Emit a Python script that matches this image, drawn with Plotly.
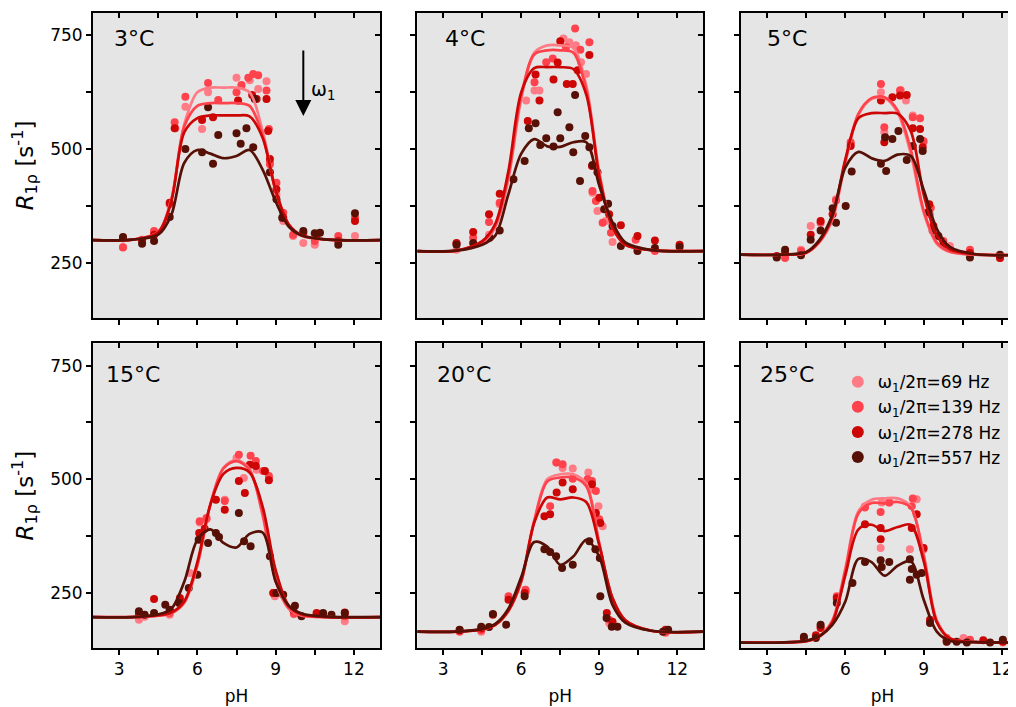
import plotly.graph_objects as go

# field strengths (Hz) and colours
freqs = [69, 139, 278, 557]
colors = {69: '#FF7B85', 139: '#FF424C', 278: '#CC0505', 557: '#561005'}
temps = ['3°C', '4°C', '5°C', '15°C', '20°C', '25°C']

# pH knots of the fitted curves (shared)
fit_ph = [2, 3.5, 4.5, 5, 5.5, 6, 6.5, 7, 7.5, 8, 8.5, 9, 9.5, 10, 11, 13]

# ---- 3 C ----
ph3 = {
    69: [3.15, 4.34, 5.16, 5.54, 6.18, 6.41, 7.50, 7.69, 8.01, 8.33, 8.65, 8.78, 9.03, 9.29, 9.67, 10.06, 10.50, 12.04],
    139: [3.15, 3.88, 4.34, 4.94, 5.13, 5.54, 6.41, 6.80, 7.50, 7.69, 7.95, 8.14, 8.33, 8.65, 8.74, 8.78, 9.03, 9.29, 9.67, 10.50, 11.40, 12.04],
    278: [3.15, 3.88, 4.34, 4.94, 5.13, 6.18, 6.60, 7.56, 8.10, 8.27, 8.65, 8.71, 8.78, 9.03, 9.29, 10.06, 10.57, 11.40, 12.04],
    557: [3.15, 3.88, 4.34, 4.94, 5.54, 6.18, 6.60, 6.41, 6.80, 7.50, 7.66, 7.88, 8.14, 8.20, 8.78, 9.03, 9.25, 10.06, 10.50, 10.70, 11.40, 12.04],
}
r3 = {
    69: [285, 312, 546, 593, 544, 625, 657, 640, 651, 632, 649, 470, 400, 342, 309, 294, 290, 309],
    139: [284, 301, 320, 379, 559, 615, 645, 608, 625, 641, 657, 665, 662, 629, 544, 467, 426, 360, 312, 298, 309, 349],
    278: [304, 299, 312, 382, 546, 564, 570, 607, 619, 610, 610, 540, 478, 412, 349, 316, 312, 298, 342],
    557: [307, 292, 298, 351, 500, 493, 468, 592, 531, 535, 512, 546, 504, 610, 449, 390, 349, 320, 315, 316, 290, 359],
}
fit3 = {
    69: [300, 301, 318, 390, 555, 625, 635, 635, 635, 625, 540, 410, 332, 309, 301, 300],
    139: [300, 301, 318, 388, 550, 595, 601, 601, 601, 595, 530, 408, 333, 310, 301, 300],
    278: [300, 301, 317, 385, 537, 568, 574, 574, 574, 572, 525, 410, 335, 311, 301, 300],
    557: [300, 301, 312, 355, 470, 498, 490, 480, 485, 498, 455, 385, 330, 310, 301, 300],
}

# ---- 4 C ----
ph4 = {
    69: [3.51, 4.76, 5.17, 6.19, 6.51, 6.70, 7.62, 7.85, 8.10, 8.30, 8.49, 8.74, 8.93, 9.25, 9.51, 10.47],
    139: [3.51, 4.15, 4.76, 5.17, 6.51, 6.96, 7.21, 7.72, 8.07, 8.27, 8.62, 8.74, 8.87, 9.13, 9.45, 10.40, 11.14],
    278: [3.51, 4.15, 4.76, 5.17, 6.25, 6.55, 6.70, 7.24, 7.40, 7.50, 7.75, 7.98, 8.17, 8.62, 8.72, 9.00, 9.38, 9.83, 10.47, 11.14, 12.09],
    557: [3.51, 4.15, 4.78, 5.17, 5.70, 6.13, 6.29, 6.55, 6.73, 6.96, 7.24, 7.40, 7.50, 7.85, 8.00, 8.07, 8.26, 8.46, 8.62, 8.74, 8.93, 9.19, 9.34, 9.51, 9.83, 10.47, 11.14, 12.09],
}
r4 = {
    69: [279, 312, 379, 607, 629, 629, 743, 735, 728, 691, 665, 404, 364, 342, 296, 279],
    139: [292, 305, 340, 382, 647, 691, 699, 724, 765, 718, 735, 408, 386, 338, 316, 301, 276],
    278: [294, 318, 357, 402, 562, 664, 607, 653, 690, 737, 643, 643, 673, 707, 463, 393, 357, 333, 309, 299, 290],
    557: [290, 294, 305, 321, 434, 474, 546, 557, 509, 524, 506, 581, 524, 548, 493, 619, 430, 529, 504, 465, 449, 368, 380, 331, 287, 276, 283, 285],
}
fit4 = {
    69: [276, 277, 295, 328, 432, 610, 712, 728, 728, 722, 640, 450, 330, 290, 278, 276],
    139: [276, 277, 296, 332, 440, 618, 708, 717, 717, 712, 630, 445, 328, 290, 278, 276],
    278: [276, 277, 298, 336, 450, 625, 678, 680, 680, 676, 620, 440, 330, 290, 278, 276],
    557: [276, 277, 290, 310, 400, 490, 522, 506, 505, 515, 515, 420, 340, 295, 278, 276],
}

# ---- 5 C ----
ph5 = {
    69: [3.37, 4.30, 4.67, 5.64, 6.21, 7.36, 7.49, 8.12, 8.32, 8.58, 8.99, 9.24, 10.0, 11.92],
    139: [3.69, 4.30, 5.05, 5.64, 6.20, 7.36, 7.49, 8.09, 8.58, 8.86, 8.99, 9.27, 9.75, 10.77, 11.92],
    278: [3.37, 3.69, 4.67, 5.05, 5.51, 6.20, 7.36, 7.49, 7.80, 8.09, 8.35, 8.58, 8.86, 8.96, 9.21, 9.37, 10.77, 11.92],
    557: [3.37, 3.69, 4.30, 4.67, 5.05, 5.51, 5.64, 6.01, 6.24, 7.36, 7.56, 7.52, 7.80, 8.03, 8.35, 8.58, 8.86, 8.96, 9.18, 9.34, 9.56, 9.75, 10.77, 11.92],
}
r5 = {
    69: [263, 279, 331, 390, 511, 625, 537, 630, 607, 574, 515, 357, 287, 261],
    139: [261, 276, 338, 387, 515, 643, 548, 629, 570, 568, 518, 371, 298, 279, 265],
    278: [265, 274, 312, 342, 357, 507, 607, 515, 614, 618, 619, 546, 544, 504, 379, 331, 272, 261],
    557: [262, 279, 267, 301, 321, 370, 338, 375, 451, 468, 452, 526, 522, 540, 476, 507, 522, 496, 362, 321, 309, 290, 262, 268],
}
fit5 = {
    69: [268, 268, 272, 295, 345, 470, 575, 610, 612, 580, 490, 360, 292, 274, 268, 268],
    139: [268, 268, 272, 296, 348, 475, 578, 612, 614, 585, 500, 365, 295, 275, 268, 268],
    278: [268, 268, 273, 298, 352, 478, 568, 579, 579, 578, 540, 400, 310, 280, 269, 268],
    557: [268, 268, 274, 300, 355, 460, 494, 480, 474, 488, 485, 410, 325, 285, 269, 268],
}

# ---- 15 C ----
ph15 = {
    69: [3.76, 3.98, 4.94, 5.71, 6.09, 6.35, 7.05, 7.50, 7.78, 8.27, 8.75, 8.97, 9.70, 11.65],
    139: [3.76, 4.94, 5.35, 6.09, 6.35, 7.05, 7.59, 8.04, 8.24, 8.52, 8.74, 8.91, 9.70, 10.57, 11.65],
    278: [3.76, 4.34, 4.94, 5.33, 6.07, 6.28, 6.71, 7.05, 7.59, 7.82, 8.01, 8.24, 8.59, 8.74, 8.91, 9.67, 10.57, 11.65],
    557: [3.76, 3.98, 4.34, 4.77, 4.94, 5.30, 5.67, 6.00, 6.05, 6.41, 6.71, 6.83, 7.59, 7.79, 8.04, 8.78, 9.03, 9.29, 9.74, 9.99, 10.82, 11.14, 11.65],
}
r15 = {
    69: [191, 198, 202, 294, 405, 412, 455, 547, 503, 521, 503, 243, 203, 188],
    139: [201, 206, 232, 408, 415, 452, 554, 552, 540, 518, 507, 250, 205, 203, 199],
    278: [205, 237, 210, 239, 382, 391, 455, 433, 496, 470, 532, 529, 518, 498, 250, 213, 206, 207],
    557: [210, 202, 206, 224, 213, 228, 261, 290, 367, 360, 382, 373, 426, 364, 353, 331, 250, 246, 222, 199, 206, 202, 206],
}
fit15 = {
    69: [197, 197, 200, 205, 228, 310, 445, 525, 543, 522, 420, 275, 215, 200, 197, 197],
    139: [197, 197, 200, 206, 230, 312, 445, 524, 540, 520, 425, 280, 217, 201, 197, 197],
    278: [197, 197, 201, 207, 232, 318, 445, 512, 525, 515, 440, 300, 222, 203, 197, 197],
    557: [197, 197, 203, 215, 275, 367, 390, 360, 350, 380, 383, 275, 222, 205, 198, 197],
}

# ---- 20 C ----
ph20 = {
    69: [4.46, 6.19, 7.34, 7.59, 7.98, 8.58, 8.74, 8.97, 9.13, 9.38, 11.55],
    139: [3.63, 4.46, 5.51, 6.16, 7.11, 7.36, 7.59, 7.98, 8.55, 8.72, 8.87, 9.00, 9.38, 11.55],
    278: [3.63, 4.46, 4.91, 5.51, 6.13, 6.89, 7.11, 7.36, 7.59, 7.98, 8.72, 8.87, 9.04, 9.29, 9.51, 11.55],
    557: [3.63, 4.46, 4.76, 4.91, 5.42, 6.13, 6.89, 7.11, 7.34, 7.57, 7.98, 8.62, 8.85, 9.02, 9.04, 9.28, 9.48, 9.70, 11.45, 11.65],
}
r20 = {
    69: [165, 254, 537, 525, 524, 515, 478, 441, 397, 184, 162],
    139: [165, 168, 243, 257, 441, 537, 533, 501, 500, 496, 474, 412, 191, 165],
    278: [168, 172, 202, 235, 250, 419, 423, 471, 493, 478, 489, 426, 404, 206, 187, 169],
    557: [169, 176, 175, 204, 180, 243, 346, 340, 331, 305, 312, 364, 346, 327, 243, 195, 176, 176, 165, 169],
}
fit20 = {
    69: [165, 165, 170, 180, 210, 275, 410, 500, 511, 511, 490, 360, 240, 190, 167, 165],
    139: [165, 165, 170, 180, 210, 275, 408, 495, 504, 504, 485, 358, 240, 190, 167, 165],
    278: [165, 165, 170, 180, 211, 278, 405, 460, 456, 460, 450, 355, 240, 190, 167, 165],
    557: [165, 165, 171, 182, 215, 285, 362, 352, 312, 330, 367, 330, 225, 185, 167, 165],
}

# ---- 25 C ----
ph25 = {
    69: [5.67, 6.75, 7.39, 7.35, 7.68, 8.47, 8.73, 8.99, 9.88, 10.52, 12.03],
    139: [5.05, 5.67, 6.75, 7.35, 7.68, 8.54, 8.58, 8.99, 9.88, 10.77, 12.03],
    278: [4.41, 4.87, 5.05, 5.67, 6.75, 7.35, 7.35, 8.54, 8.73, 8.99, 9.24, 9.88, 11.28, 12.03],
    557: [4.41, 4.87, 5.05, 5.67, 6.27, 6.75, 7.35, 7.39, 7.68, 8.47, 8.54, 8.47, 8.73, 8.92, 9.24, 9.88, 10.26, 10.65, 11.54, 12.03],
}
r25 = {
    69: [236, 441, 449, 349, 449, 346, 456, 349, 143, 151, 141],
    139: [176, 243, 438, 428, 449, 441, 458, 346, 151, 147, 145],
    278: [150, 157, 173, 239, 401, 393, 368, 393, 423, 349, 191, 146, 146, 143],
    557: [154, 151, 180, 228, 272, 318, 322, 307, 318, 324, 303, 279, 290, 294, 184, 143, 143, 141, 141, 147],
}
fit25 = {
    69: [141, 141, 144, 155, 190, 305, 430, 455, 458, 458, 440, 335, 190, 150, 142, 141],
    139: [141, 141, 144, 155, 188, 300, 425, 448, 447, 450, 438, 330, 188, 150, 142, 141],
    278: [141, 141, 144, 154, 185, 290, 390, 400, 386, 395, 400, 320, 185, 150, 142, 141],
    557: [141, 141, 145, 155, 180, 232, 325, 318, 288, 310, 320, 235, 165, 145, 142, 141],
}

panels = [(ph3, r3, fit3), (ph4, r4, fit4), (ph5, r5, fit5),
          (ph15, r15, fit15), (ph20, r20, fit20), (ph25, r25, fit25)]

x_ticks = [3, 4.5, 6, 7.5, 9, 10.5, 12]
x_labels = ['3', '', '6', '', '9', '', '12']
y_ticks = [250, 375, 500, 625, 750]
y_labels = ['250', '', '500', '', '750']

FONT = 'DejaVu Sans, Liberation Sans, Arial, sans-serif'
# page body has an 8px margin, so the figure is laid out 8px up/left
col_dom = [[0, 0.3083], [0.3483, 0.6555], [0.6960, 1.0]]
row_dom = [[0.5197, 1.0], [0.0, 0.4798]]
y_range = [129, 799]

fig = go.Figure()

for k, (ph, r, fit) in enumerate(panels, start=1):
    ax = '' if k == 1 else str(k)
    for f in freqs:
        fig.add_trace(go.Scatter(
            x=ph[f], y=r[f], mode='markers',
            marker=dict(color=colors[f], size=8),
            name=f'ω<sub>1</sub>/2π={f} Hz',
            showlegend=(k == 1), legendgroup=str(f),
            xaxis='x' + ax, yaxis='y' + ax))
    for f in freqs:
        fig.add_trace(go.Scatter(
            x=fit_ph, y=fit[f], mode='lines',
            line=dict(color=colors[f], width=2.7, shape='spline', smoothing=0.9),
            showlegend=False, hoverinfo='skip',
            xaxis='x' + ax, yaxis='y' + ax))

axis_line = dict(showline=True, linecolor='black', linewidth=2, showgrid=False,
                 zeroline=False, ticks='outside', ticklen=5, tickwidth=1.5,
                 tickcolor='black', automargin=False,
                 tickfont=dict(size=17, family=FONT, color='black'))

layout = {}
for k in range(1, 7):
    row = 0 if k <= 3 else 1
    col = (k - 1) % 3
    xr = [2, 12.84] if col == 2 else [2, 13]
    xa = dict(axis_line, domain=col_dom[col], range=xr, anchor=f'y{k}',
              tickvals=x_ticks, ticktext=x_labels if row == 1 else [''] * 7,
              mirror=True)
    if row == 1:
        xa['title'] = dict(text='pH', font=dict(size=17, family=FONT, color='black'),
                           standoff=12)
    ya = dict(axis_line, domain=row_dom[row], range=y_range, anchor=f'x{k}',
              tickvals=y_ticks, ticktext=y_labels if col == 0 else [''] * 5,
              mirror=(col != 2))
    if col == 0:
        ya['title'] = dict(text='<i>R</i><sub>1ρ</sub> [s<sup>-1</sup>]',
                           font=dict(size=23, family=FONT, color='black'), standoff=11)
    layout[f'xaxis{k}'] = xa
    layout[f'yaxis{k}'] = ya
    # inward ticks on the top and right edges
    layout[f'xaxis{k + 6}'] = dict(overlaying=f'x{k}', side='top', anchor=f'y{k}',
                                   range=xr, tickvals=x_ticks, showticklabels=False,
                                   ticks='inside', ticklen=5, tickwidth=1.5, tickcolor='black',
                                   showline=False, showgrid=False, zeroline=False,
                                   automargin=False)
    if col != 2:
        layout[f'yaxis{k + 6}'] = dict(overlaying=f'y{k}', side='right', anchor=f'x{k}',
                                       range=y_range, tickvals=y_ticks, showticklabels=False,
                                       ticks='inside', ticklen=5, tickwidth=1.5, tickcolor='black',
                                       showline=False, showgrid=False, zeroline=False,
                                       automargin=False)

fig.update_layout(**layout)

# dummy traces so the overlay tick axes are drawn
for k in range(1, 7):
    col = (k - 1) % 3
    fig.add_trace(go.Scatter(x=[None], y=[None], xaxis=f'x{k + 6}', yaxis=f'y{k}',
                             showlegend=False, hoverinfo='skip'))
    if col != 2:
        fig.add_trace(go.Scatter(x=[None], y=[None], xaxis=f'x{k}', yaxis=f'y{k + 6}',
                                 showlegend=False, hoverinfo='skip'))

# temperature labels
label_pos = [(0.065, 0.915), (0.090, 0.915), (0.084, 0.915),
             (0.037, 0.898), (0.061, 0.898), (0.060, 0.898)]
for k, (t, (lx, ly)) in enumerate(zip(temps, label_pos), start=1):
    ax = '' if k == 1 else str(k)
    fig.add_annotation(text=t, xref=f'x{ax} domain', yref=f'y{ax} domain',
                       x=lx, y=ly, xanchor='left', yanchor='middle', showarrow=False,
                       font=dict(size=22, family=FONT, color='black'))

# omega_1 arrow in the 3 C panel
fig.add_annotation(x=10.06, y=573, xref='x', yref='y', ax=0, ay=-67, text='',
                   showarrow=True, arrowhead=2, arrowsize=1.6, arrowwidth=2,
                   arrowcolor='black')
fig.add_annotation(x=10.8, y=629, xref='x', yref='y', text='ω<sub>1</sub>',
                   showarrow=False, font=dict(size=19, family=FONT, color='black'))

fig.update_layout(
    width=1016, height=707,
    margin=dict(l=85, r=0, t=5, b=67, autoexpand=False),
    paper_bgcolor='white', plot_bgcolor='#E5E5E5',
    font=dict(family=FONT, color='black'),
    legend=dict(x=0.800, y=0.447, xanchor='left', yanchor='top',
                bgcolor='rgba(0,0,0,0)', itemsizing='constant',
                font=dict(size=17, family=FONT, color='black'),
                tracegroupgap=0),
)

fig.write_html('out.html')
